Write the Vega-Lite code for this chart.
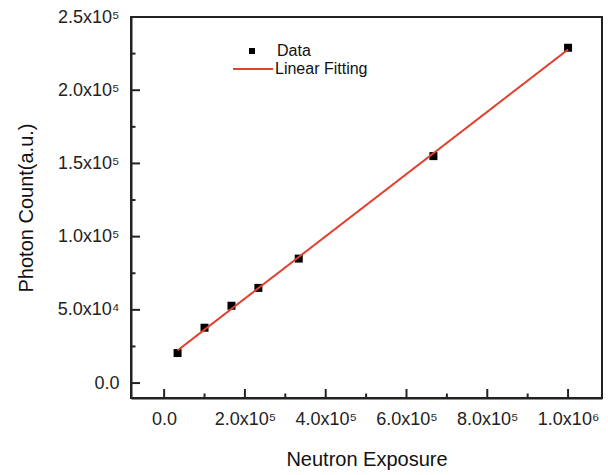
{
  "$schema": "https://vega.github.io/schema/vega-lite/v6.json",
  "width": 471,
  "height": 381,
  "autosize": "none",
  "padding": {"left": 131, "top": 17, "right": 6, "bottom": 77},
  "background": "white",
  "config": {
    "view": {"stroke": "#222222", "strokeWidth": 2},
    "font": "Liberation Sans",
    "axis": {
      "grid": false,
      "domainColor": "#222222",
      "domainWidth": 2,
      "labelFont": "Liberation Sans",
      "titleFont": "Liberation Sans",
      "labelFontSize": 18,
      "titleFontSize": 20,
      "labelColor": "#222222",
      "titleColor": "#111111",
      "titleFontWeight": "normal"
    },
    "legend": {
      "labelFont": "Liberation Sans",
      "labelFontSize": 16,
      "labelColor": "#111111",
      "padding": 0
    }
  },
  "resolve": {"axis": {"x": "independent", "y": "independent"}},
  "layer": [
    {
      "data": {"values": [
        {"exposure": 33300, "count": 20500},
        {"exposure": 100000, "count": 37800},
        {"exposure": 166700, "count": 52800},
        {"exposure": 233300, "count": 65000},
        {"exposure": 333300, "count": 85000},
        {"exposure": 666700, "count": 155000},
        {"exposure": 1000000, "count": 229000}
      ]},
      "mark": {"type": "point", "filled": true, "size": 64, "opacity": 1, "color": "#000000"},
      "encoding": {
        "x": {
          "field": "exposure", "type": "quantitative",
          "scale": {"domain": [-82000, 1084000], "nice": false, "zero": false},
          "axis": {
            "title": "Neutron Exposure",
            "values": [0, 200000, 400000, 600000, 800000, 1000000],
            "ticks": false,
            "labelPadding": 12,
            "titlePadding": 21,
            "labelExpr": "datum.value == 0 ? '0.0' : datum.value >= 1000000 ? format(datum.value / 1000000, '.1f') + 'x10⁶' : format(datum.value / 100000, '.1f') + 'x10⁵'"
          }
        },
        "y": {
          "field": "count", "type": "quantitative",
          "scale": {"domain": [-10200, 250000], "nice": false, "zero": false},
          "axis": {
            "title": "Photon Count(a.u.)",
            "values": [0, 50000, 100000, 150000, 200000, 250000],
            "ticks": false,
            "labelPadding": 12,
            "titlePadding": 21,
            "labelExpr": "datum.value == 0 ? '0.0' : datum.value < 100000 ? format(datum.value / 10000, '.1f') + 'x10⁴' : format(datum.value / 100000, '.1f') + 'x10⁵'"
          }
        },
        "shape": {
          "datum": "Data", "type": "nominal",
          "scale": {"domain": ["Data"], "range": ["square"]},
          "legend": {
            "title": null,
            "orient": "none",
            "legendX": 113,
            "legendY": 26,
            "symbolSize": 36,
            "symbolFillColor": "#000000",
            "symbolStrokeColor": "#000000",
            "labelOffset": 17
          }
        }
      }
    },
    {
      "data": {"values": [
        {"exposure": 33300, "count": 22300},
        {"exposure": 1000000, "count": 227800}
      ]},
      "mark": {"type": "line", "strokeWidth": 2, "color": "#e0402e"},
      "encoding": {
        "x": {"field": "exposure", "type": "quantitative", "axis": null},
        "y": {"field": "count", "type": "quantitative", "axis": null},
        "strokeDash": {
          "datum": "Linear Fitting", "type": "nominal",
          "scale": {"domain": ["Linear Fitting"], "range": [[1, 0]]},
          "legend": {
            "title": null,
            "orient": "none",
            "legendX": 101,
            "legendY": 31,
            "symbolType": "stroke",
            "symbolSize": 1600,
            "symbolStrokeWidth": 2,
            "symbolStrokeColor": "#e0402e",
            "labelOffset": 1
          }
        }
      }
    },
    {
      "data": {"values": [
        {"tick": 0}, {"tick": 200000}, {"tick": 400000},
        {"tick": 600000}, {"tick": 800000}, {"tick": 1000000}
      ]},
      "mark": {"type": "point", "filled": true, "color": "#222222", "opacity": 1, "size": 324, "shape": "M -0.11,0 L 0.11,0 L 0.11,-1 L -0.11,-1 Z"},
      "encoding": {
        "x": {"field": "tick", "type": "quantitative", "axis": null},
        "y": {"datum": -10200, "type": "quantitative", "axis": null}
      }
    },
    {
      "data": {"values": [
        {"tick": 100000}, {"tick": 300000}, {"tick": 500000},
        {"tick": 700000}, {"tick": 900000}
      ]},
      "mark": {"type": "point", "filled": true, "color": "#222222", "opacity": 1, "size": 324, "shape": "M -0.11,0 L 0.11,0 L 0.11,-0.5 L -0.11,-0.5 Z"},
      "encoding": {
        "x": {"field": "tick", "type": "quantitative", "axis": null},
        "y": {"datum": -10200, "type": "quantitative", "axis": null}
      }
    },
    {
      "data": {"values": [
        {"tick": 0}, {"tick": 50000}, {"tick": 100000},
        {"tick": 150000}, {"tick": 200000}, {"tick": 250000}
      ]},
      "mark": {"type": "point", "filled": true, "color": "#222222", "opacity": 1, "size": 324, "shape": "M 0,-0.11 L 1,-0.11 L 1,0.11 L 0,0.11 Z"},
      "encoding": {
        "y": {"field": "tick", "type": "quantitative", "axis": null},
        "x": {"datum": -82000, "type": "quantitative", "axis": null}
      }
    },
    {
      "data": {"values": [
        {"tick": 25000}, {"tick": 75000}, {"tick": 125000},
        {"tick": 175000}, {"tick": 225000}
      ]},
      "mark": {"type": "point", "filled": true, "color": "#222222", "opacity": 1, "size": 324, "shape": "M 0,-0.11 L 0.5,-0.11 L 0.5,0.11 L 0,0.11 Z"},
      "encoding": {
        "y": {"field": "tick", "type": "quantitative", "axis": null},
        "x": {"datum": -82000, "type": "quantitative", "axis": null}
      }
    }
  ]
}
